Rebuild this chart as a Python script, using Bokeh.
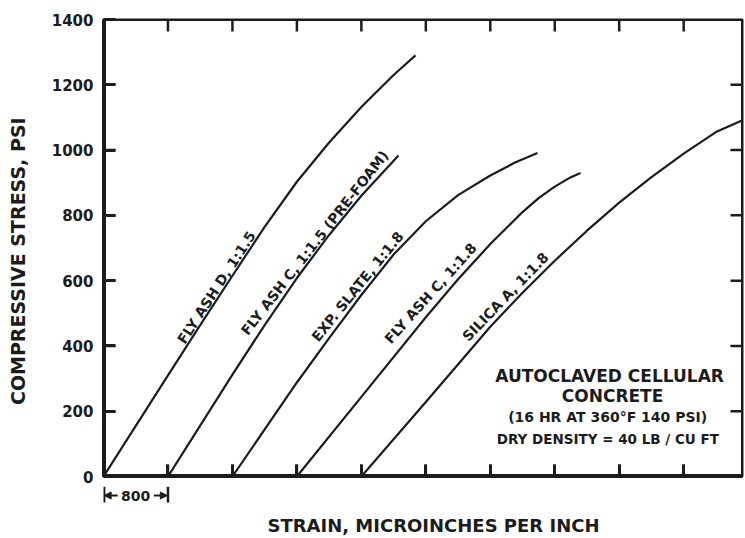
from bokeh.plotting import figure
from bokeh.layouts import column
from bokeh.models import (Range1d, LinearAxis, FixedTicker, Label, Arrow, NormalHead,
                          CustomJSTickFormatter)
from bokeh.embed import file_html
from bokeh.resources import INLINE

FONT = "DejaVu Sans"
INK = "#1c1c1c"

# ---- data (strain in microinches/inch, stress in psi) ----
ash_d_x = [0, 800, 1200, 1600, 2000, 2400, 2800, 3200, 3600, 3872]
ash_d_y = [0, 310, 464, 615, 765, 903, 1023, 1132, 1230, 1290]

ash_c_pre_x = [800, 1600, 2000, 2400, 2800, 3200, 3661]
ash_c_pre_y = [0, 312, 464, 608, 740, 860, 983]

slate_x = [1600, 2400, 2800, 3200, 3600, 4000, 4400, 4800, 5100, 5386]
slate_y = [0, 288, 424, 556, 680, 782, 862, 922, 961, 991]

ash_c_x = [2400, 3200, 4000, 4400, 4800, 5200, 5400, 5600, 5800, 5920]
ash_c_y = [0, 244, 488, 604, 712, 810, 853, 888, 917, 930]

silica_x = [3200, 4000, 4800, 5200, 5600, 6000, 6400, 6800, 7200, 7600, 7930]
silica_y = [0, 228, 459, 563, 661, 753, 839, 917, 989, 1055, 1091]

curve_names = ["FLY ASH D, 1:1.5", "FLY ASH C, 1:1.5 (PRE-FOAM)", "EXP. SLATE, 1:1.8",
               "FLY ASH C, 1:1.8", "SILICA A, 1:1.8"]
label_x = [1402, 2620, 3152, 4058, 4989]
label_y = [579, 716, 582, 561, 551]
label_angle = [57, 52, 51, 48, 46]

x_ticks = [0, 800, 1600, 2400, 3200, 4000, 4800, 5600, 6400, 7200]
y_ticks = [0, 200, 400, 600, 800, 1000, 1200, 1400]
scale_bar = 800

note_lines = ["AUTOCLAVED  CELLULAR", "CONCRETE", "(16 HR AT  360°F  140 PSI)",
              "DRY DENSITY  =  40 LB / CU FT"]
note_y = [309, 248, 181, 115]
note_size = ["17px", "17px", "14px", "13.5px"]
note_x = 6317

X_MAX, Y_MAX = 7930, 1400
W, H = 745, 538
LEFT, RIGHT, TOP, BOTTOM = 103, 3, 19, 10
FRAME_H = 457
FRAME_W = W - LEFT - RIGHT
MAIN_H = TOP + FRAME_H + BOTTOM

p = figure(width=W, height=MAIN_H, output_backend="svg", toolbar_location=None,
           x_range=Range1d(0, X_MAX), y_range=Range1d(0, Y_MAX),
           x_axis_type=None, y_axis_type=None,
           min_border_left=LEFT, min_border_right=RIGHT, min_border_top=TOP,
           min_border_bottom=BOTTOM)
p.outline_line_color = INK
p.outline_line_width = 2
p.background_fill_color = "white"
p.border_fill_color = "white"


def style_axis(ax, width=3):
    ax.major_tick_in = 12
    ax.major_tick_out = 0
    ax.minor_tick_line_color = None
    ax.axis_line_width = width
    ax.axis_line_color = INK
    ax.major_tick_line_width = 3
    ax.major_tick_line_color = INK
    ax.major_label_text_font = FONT
    ax.major_label_text_font_style = "bold"
    ax.major_label_text_color = INK
    ax.axis_label_text_font = FONT
    ax.axis_label_text_font_style = "bold"
    ax.axis_label_text_color = INK


yl = LinearAxis(ticker=FixedTicker(ticks=y_ticks),
                axis_label="COMPRESSIVE STRESS, PSI" + "\u00a0" * 4)
style_axis(yl)
yl.major_label_standoff = 10
yl.major_label_text_font_size = "15px"
yl.axis_label_text_font_size = "19px"
yl.axis_label_standoff = 20
p.add_layout(yl, "left")

xb = LinearAxis(ticker=FixedTicker(ticks=x_ticks),
                formatter=CustomJSTickFormatter(code="return ''"))
style_axis(xb)
xb.major_label_standoff = 0
p.add_layout(xb, "below")

# inward tick marks on the top and right edges, and frame edges
tick_px = 12
dx = tick_px * X_MAX / FRAME_W
dy = tick_px * Y_MAX / FRAME_H
p.segment(x0=x_ticks, y0=[0] * len(x_ticks), x1=x_ticks, y1=[dy] * len(x_ticks),
          line_color=INK, line_width=2.5)
p.segment(x0=x_ticks, y0=[Y_MAX] * len(x_ticks), x1=x_ticks, y1=[Y_MAX - dy] * len(x_ticks),
          line_color=INK, line_width=2.5)
p.segment(x0=[0] * len(y_ticks), y0=y_ticks, x1=[dx] * len(y_ticks), y1=y_ticks,
          line_color=INK, line_width=2.5)
p.segment(x0=[X_MAX] * len(y_ticks), y0=y_ticks, x1=[X_MAX - dx] * len(y_ticks), y1=y_ticks,
          line_color=INK, line_width=2.5)
p.segment(x0=[0, 0, X_MAX, 0], y0=[0, Y_MAX, 0, 0], x1=[X_MAX, X_MAX, X_MAX, 0],
          y1=[0, Y_MAX, Y_MAX, Y_MAX], line_color=INK, line_width=[5, 3, 3, 5])

for xs, ys in [(ash_d_x, ash_d_y), (ash_c_pre_x, ash_c_pre_y), (slate_x, slate_y),
               (ash_c_x, ash_c_y), (silica_x, silica_y)]:
    p.line(xs, ys, line_color=INK, line_width=2.2, line_join="round")

for name, lx, ly, ang in zip(curve_names, label_x, label_y, label_angle):
    p.add_layout(Label(x=lx, y=ly, text=name, angle=ang, angle_units="deg",
                       text_align="center", text_baseline="middle",
                       text_font=FONT, text_font_style="bold", text_font_size="14px",
                       text_color=INK))

for t, ty, fs in zip(note_lines, note_y, note_size):
    p.add_layout(Label(x=note_x, y=ty, text=t, text_align="center", text_baseline="middle",
                       text_font=FONT, text_font_style="bold", text_font_size=fs,
                       text_color=INK))

# ---- strip below the axis: scale bar and axis title ----
STRIP_H = H - MAIN_H
s = figure(width=W, height=STRIP_H, output_backend="svg", toolbar_location=None,
           x_range=p.x_range, y_range=Range1d(0, STRIP_H),
           x_axis_type=None, y_axis_type=None,
           min_border_left=LEFT, min_border_right=RIGHT, min_border_top=0, min_border_bottom=0)
s.outline_line_color = None
s.background_fill_color = "white"
s.border_fill_color = "white"

bar_y = STRIP_H - 9
head = dict(size=7, fill_color=INK, line_color=INK)
s.add_layout(Arrow(x_start=scale_bar * 0.22, y_start=bar_y, x_end=scale_bar * 0.01, y_end=bar_y,
                   end=NormalHead(**head), line_width=2, line_color=INK))
s.add_layout(Arrow(x_start=scale_bar * 0.78, y_start=bar_y, x_end=scale_bar * 0.99, y_end=bar_y,
                   end=NormalHead(**head), line_width=2, line_color=INK))
s.segment(x0=[scale_bar * 0.01, scale_bar], y0=[bar_y - 7] * 2,
          x1=[scale_bar * 0.01, scale_bar], y1=[STRIP_H] * 2, line_color=INK, line_width=2.5)
s.add_layout(Label(x=scale_bar / 2, y=bar_y, text=str(scale_bar), text_align="center",
                   text_baseline="middle", text_font=FONT, text_font_style="bold",
                   text_font_size="14px", text_color=INK))
s.add_layout(Label(x=4095, y=13, text="STRAIN, MICROINCHES PER INCH", text_align="center",
                   text_baseline="middle", text_font=FONT, text_font_style="bold",
                   text_font_size="18px", text_color=INK))

layout = column(p, s, spacing=0)
open("out.html", "w").write(file_html(layout, INLINE))
